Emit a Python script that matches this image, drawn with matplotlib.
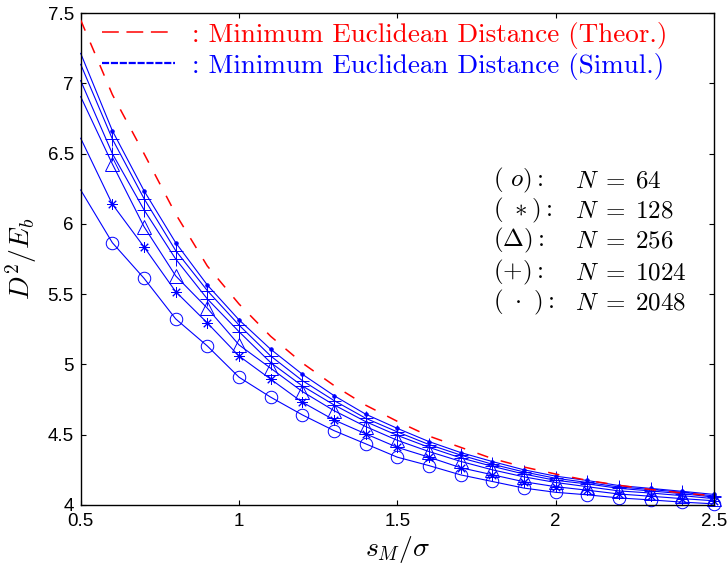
import matplotlib
matplotlib.use('Agg')
import matplotlib.pyplot as plt
from matplotlib.lines import Line2D

plt.rcParams['mathtext.fontset'] = 'cm'
plt.rcParams['font.family'] = ['Liberation Sans', 'DejaVu Sans']

# s_M / sigma
x = [0.5, 0.6, 0.7, 0.8, 0.9, 1.0, 1.1, 1.2, 1.3, 1.4, 1.5,
     1.6, 1.7, 1.8, 1.9, 2.0, 2.1, 2.2, 2.3, 2.4, 2.5]

# theoretical minimum euclidean distance (red dashed)
d_theor = [7.45, 6.92, 6.50, 6.07, 5.70, 5.43, 5.20, 5.01, 4.85, 4.71, 4.595,
           4.49, 4.41, 4.33, 4.27, 4.22, 4.175, 4.14, 4.11, 4.085, 4.065]

# simulated curves
d_n64 = [6.241, 5.866, 5.613, 5.324, 5.131, 4.909, 4.767, 4.641, 4.529, 4.435, 4.34,
         4.28, 4.214, 4.167, 4.12, 4.09, 4.072, 4.05, 4.036, 4.02, 4.008]
d_n128 = [6.609, 6.14, 5.836, 5.518, 5.295, 5.06, 4.895, 4.731, 4.605, 4.506, 4.41,
          4.34, 4.265, 4.215, 4.165, 4.13, 4.105, 4.078, 4.062, 4.045, 4.03]
d_n256 = [6.905, 6.426, 5.98, 5.63, 5.40, 5.139, 4.973, 4.807, 4.671, 4.558, 4.46,
          4.38, 4.31, 4.25, 4.20, 4.16, 4.13, 4.10, 4.085, 4.066, 4.045]
d_n512 = [7.019, 6.50, 6.10, 5.75, 5.466, 5.233, 5.013, 4.847, 4.712, 4.593, 4.495,
          4.41, 4.335, 4.275, 4.22, 4.175, 4.15, 4.118, 4.10, 4.08, 4.056]
d_n1024 = [7.135, 6.604, 6.18, 5.81, 5.525, 5.28, 5.06, 4.885, 4.743, 4.617, 4.52,
           4.43, 4.355, 4.29, 4.235, 4.19, 4.16, 4.128, 4.11, 4.09, 4.064]
d_n2048 = [7.213, 6.663, 6.236, 5.866, 5.565, 5.317, 5.108, 4.93, 4.778, 4.646, 4.545,
           4.451, 4.373, 4.309, 4.25, 4.205, 4.174, 4.138, 4.118, 4.097, 4.075]

xticks = [0.5, 1, 1.5, 2, 2.5]
xtick_labels = ['0.5', '1', '1.5', '2', '2.5']
yticks = [4, 4.5, 5, 5.5, 6, 6.5, 7, 7.5]
ytick_labels = ['4', '4.5', '5', '5.5', '6', '6.5', '7', '7.5']

marker_keys = [r'$(\ o):$', r'$(\ \ast):$', r'$(\Delta):$', r'$(+):$', r'$(\ \cdot\ ):$']
n_labels = [r'$N\;=\;64$', r'$N\;=\;128$', r'$N\;=\;256$', r'$N\;=\;1024$', r'$N\;=\;2048$']

blue = (0, 0, 1)
red = (1, 0, 0)

fig = plt.figure(figsize=(7.27, 5.68), dpi=100)
ax = fig.add_axes([0.111, 0.111, 0.871, 0.866])

ax.plot(x, d_theor, color=red, lw=1.1, dashes=(7.5, 8.5), zorder=3)

curves = [
    (d_n64, 'o', 9),
    (d_n128, (8, 2, 0), 7.5),
    (d_n256, '^', 9.5),
    (d_n512, '+', 10),
    (d_n1024, '+', 10),
    (d_n2048, '.', 5),
]
for y, m, ms in curves:
    ax.plot(x, y, color=blue, lw=0.8, marker=m, ms=ms, mew=0.7,
            mfc='none' if m != '.' else blue, mec=blue,
            markevery=slice(1, None), clip_on=False)

ax.set_xlim(0.5, 2.5)
ax.set_ylim(4, 7.5)
ax.set_xticks(xticks)
ax.set_xticklabels(xtick_labels)
ax.set_yticks(yticks)
ax.set_yticklabels(ytick_labels)
ax.tick_params(direction='in', length=3.8, width=0.8, labelsize=13.5,
               top=True, right=True)
ax.tick_params(axis='x', pad=6)
ax.tick_params(axis='y', pad=5)
for s in ax.spines.values():
    s.set_linewidth(1.0)

ax.set_xlabel(r'$s_M/\sigma$', fontsize=20, labelpad=3)
ax.set_ylabel(r'$D^2/E_b$', fontsize=20, labelpad=6)

# top legend
h_theor = Line2D([], [], color=red, lw=1.1, dashes=(11, 5))
h_sim = Line2D([], [], color=blue, lw=1.6, dashes=(3.2, 0.8))
leg = ax.legend([h_theor, h_sim],
                [': Minimum Euclidean Distance (Theor.)',
                 ': Minimum Euclidean Distance (Simul.)'],
                loc='upper left', bbox_to_anchor=(0.140, 0.962),
                bbox_transform=fig.transFigure, frameon=False,
                prop={'family': 'cmr10', 'size': 19.5},
                handlelength=2.7, handletextpad=0.62, borderpad=0,
                borderaxespad=0, labelspacing=0.16)
leg.get_texts()[0].set_color(red)
leg.get_texts()[1].set_color(blue)

# marker key text block
row_y = [0.683, 0.630, 0.576, 0.521, 0.467]
for key, lab, yy in zip(marker_keys, n_labels, row_y):
    fig.text(0.678, yy, key, fontsize=18, va='center', ha='left')
    fig.text(0.791, yy, lab, fontsize=18, va='center', ha='left')

fig.savefig('out.png', dpi=100)
